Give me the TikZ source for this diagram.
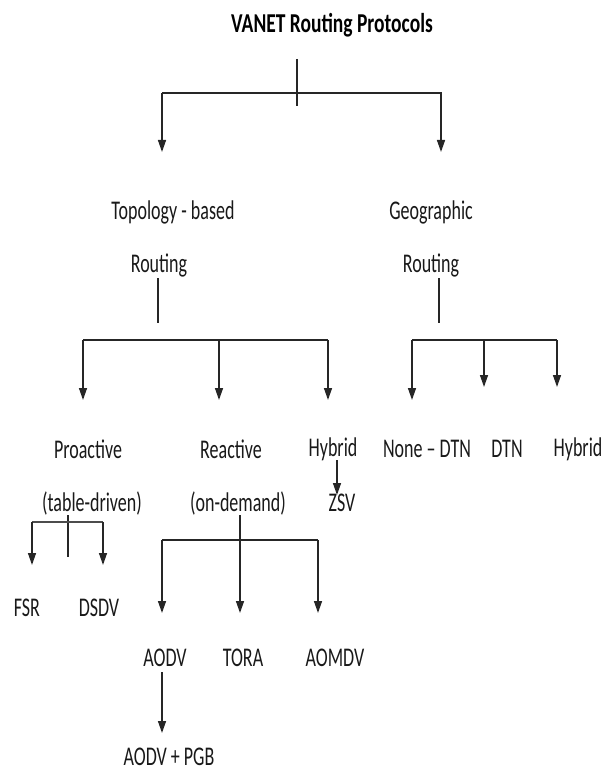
\documentclass[tikz,border=0pt]{standalone}
\usepackage{fontspec}
\setmainfont{Carlito}
\usetikzlibrary{arrows.meta}
\begin{document}
\begin{tikzpicture}[x=1pt,y=-1pt,
  lbl/.style={inner sep=0pt,font=\fontsize{18}{20}\selectfont,yscale=1.5,transform shape,text=black!90},
  ttl/.style={inner sep=0pt,font=\fontsize{19.5}{22}\selectfont\bfseries,yscale=1.4,transform shape,text=black},
  ln/.style={line width=1.4pt,black!85},
  arr/.style={ln,-{Triangle[width=8pt,length=12pt]}}]
\useasboundingbox (0,0) rectangle (611,775);
% texts
\node[ttl] (root) at (332,25) {VANET Routing Protocols};
\node[lbl] (topo1) at (173,212) {Topology - based};
\node[lbl] (topo2) at (159,265) {Routing};
\node[lbl] (geo1) at (431,212) {Geographic};
\node[lbl] (geo2) at (431,265) {Routing};
\node[lbl] (pro1) at (88,449) {Proactive};
\node[lbl] (pro2) at (92,503) {(table-driven)};
\node[lbl] (rea1) at (231,449) {Reactive};
\node[lbl] (rea2) at (238,503) {(on-demand)};
\node[lbl] (hyb) at (333,449) {Hybrid};
\node[lbl] (zsv) at (342,503) {ZSV};
\node[lbl] (ndtn) at (427,449) {None -- DTN};
\node[lbl] (dtn) at (507,449) {DTN};
\node[lbl] (ghyb) at (578,449) {Hybrid};
\node[lbl] (fsr) at (27,608) {FSR};
\node[lbl] (dsdv) at (99,608) {DSDV};
\node[lbl] (aodv) at (165,658) {AODV};
\node[lbl] (tora) at (243,658) {TORA};
\node[lbl] (aomdv) at (335,658) {AOMDV};
\node[lbl] (pgb) at (169,757) {AODV + PGB};
% root split
\coordinate (r0) at (297,59);
\coordinate (r1) at (297,106);
\coordinate (rL) at (162,93);
\coordinate (rR) at (441,93);
\coordinate (tTopo) at (162,152);
\coordinate (tGeo) at (441,152);
\draw[ln] (r0) -- (r1);
\draw[arr] (tTopo |- rL) -- (rR) -- (tGeo);
\draw[arr] (rL) -- (tTopo);
% topology split
\coordinate (t0) at (158,278);
\coordinate (t1) at (158,323);
\coordinate (tL) at (83,340);
\coordinate (tM) at (219,340);
\coordinate (tR) at (328,340);
\draw[ln] (t0) -- (t1);
\draw[ln] (tL) -- (tR);
\draw[arr] (tL) -- (83,400);
\draw[arr] (tM) -- (219,400);
\draw[arr] (tR) -- (328,400);
% geographic split
\coordinate (g0) at (439,278);
\coordinate (g1) at (439,323);
\coordinate (gL) at (412,340);
\coordinate (gM) at (484,340);
\coordinate (gR) at (557,340);
\draw[ln] (g0) -- (g1);
\draw[ln] (gL) -- (gR);
\draw[arr] (gL) -- (412,400);
\draw[arr] (gM) -- (484,387);
\draw[arr] (gR) -- (557,387);
% hybrid -> zsv
\draw[arr] (337,460) -- (337,495);
% proactive split
\coordinate (p0) at (68,515);
\coordinate (p1) at (68,557);
\coordinate (pL) at (32,522);
\coordinate (pR) at (103,522);
\draw[ln] (p0) -- (p1);
\draw[ln,line width=2pt,black!70] (pL) -- (pR);
\draw[arr] (pL) -- (32,565);
\draw[arr] (pR) -- (103,565);
% reactive split
\coordinate (q0) at (240,515);
\coordinate (qL) at (162,540);
\coordinate (qR) at (318,540);
\draw[ln] (qL) -- (qR);
\draw[arr] (q0) -- (240,613);
\draw[arr] (qL) -- (162,613);
\draw[arr] (qR) -- (318,613);
% aodv -> pgb
\draw[arr] (162,672) -- (162,733);
\end{tikzpicture}
\end{document}
